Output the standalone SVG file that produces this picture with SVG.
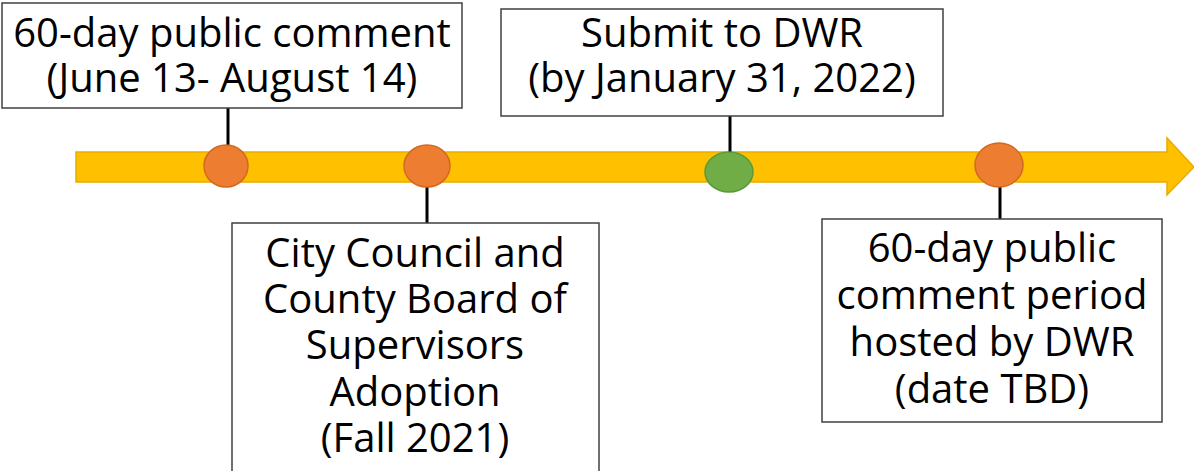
<svg xmlns="http://www.w3.org/2000/svg" width="1194" height="471" viewBox="0 0 1194 471">
<style>
.box{fill:#fff;stroke:#404040;stroke-width:1.5}
.t{font-family:"Open Sans","Noto Sans",sans-serif;font-size:40px;fill:#000;text-anchor:middle}
.c{stroke:#000;stroke-width:3}
.o{fill:#ED7D31;stroke:#D2691E;stroke-width:1.5}
.g{fill:#70AD47;stroke:#5A9A3A;stroke-width:1.5}
</style>
<rect width="1194" height="471" fill="#fff"/>
<g id="timeline">
<polygon points="76,152 1167,152 1167,138 1194,167 1167,195 1167,182 76,182" fill="#FFC000" stroke="#E8AC00" stroke-width="1.5"/>
</g>
<g id="connectors">
<line class="c" x1="228" y1="108" x2="228" y2="146"/>
<line class="c" x1="427" y1="186" x2="427" y2="223"/>
<line class="c" x1="730" y1="116" x2="730" y2="153"/>
<line class="c" x1="1000" y1="186" x2="1000" y2="219"/>
</g>
<g id="m1"><ellipse class="o" cx="226" cy="166" rx="22" ry="21"/></g>
<g id="m2"><ellipse class="o" cx="427" cy="166" rx="23" ry="21"/></g>
<g id="m3"><ellipse class="g" cx="729" cy="172" rx="24" ry="20"/></g>
<g id="m4"><ellipse class="o" cx="999" cy="165" rx="24" ry="22"/></g>
<g id="n1">
<rect class="box" x="2" y="3" width="460" height="105"/>
<text class="t" x="232" y="47">60-day public comment</text>
<text class="t" x="232" y="92">(June 13- August 14)</text>
</g>
<g id="n2">
<rect class="box" x="232" y="223" width="367" height="260"/>
<text class="t" x="415" y="267">City Council and</text>
<text class="t" x="415" y="313">County Board of</text>
<text class="t" x="415" y="359">Supervisors</text>
<text class="t" x="415" y="406">Adoption</text>
<text class="t" x="415" y="452">(Fall 2021)</text>
</g>
<g id="n3">
<rect class="box" x="501" y="9" width="442" height="107"/>
<text class="t" x="722" y="47">Submit to DWR</text>
<text class="t" x="722" y="92">(by January 31, 2022)</text>
</g>
<g id="n4">
<rect class="box" x="822" y="219" width="340" height="203"/>
<text class="t" x="992" y="262">60-day public</text>
<text class="t" x="992" y="309">comment period</text>
<text class="t" x="992" y="356">hosted by DWR</text>
<text class="t" x="992" y="403">(date TBD)</text>
</g>
</svg>
